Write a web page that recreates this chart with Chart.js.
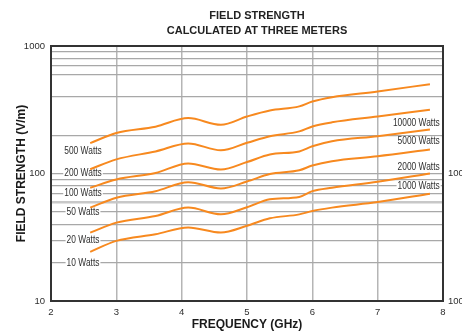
<!DOCTYPE html>
<html>
<head>
<meta charset="utf-8">
<title>Field strength</title>
<script src="https://cdn.jsdelivr.net/npm/chart.js@4/dist/chart.umd.min.js"></script>
<style>
  html, body { margin: 0; padding: 0; background: #fff; }
  #wrap { width: 462px; height: 335px; }
</style>
</head>
<body>
<div id="wrap"><canvas id="chart" width="462" height="335"></canvas></div>
<script>
// field strength curves, V/m at 3 m
const freqGHz   = [2.6, 3.0, 3.6, 4.1, 4.6, 5.0, 5.35, 5.8, 6.0, 6.3, 7.0, 7.8];
const field500W = [173, 208, 233, 272, 241, 280, 312, 336, 367, 397, 440, 502];
const field200W = [108, 129, 149, 172, 152, 174, 196, 214, 234, 252, 280, 316];
const field100W = [77.3, 89.8, 101, 120, 107.5, 123, 141, 149, 163.5, 179, 196, 221];
const field50W  = [54, 64.6, 72.7, 85.5, 76.3, 86.6, 99, 106, 115.5, 125, 136.5, 154];
const field20W  = [34.4, 41.2, 46.4, 54, 47.8, 54.3, 62.7, 65.5, 72.7, 77.3, 86.1, 100];
const field10W  = [24.3, 29.6, 33.4, 37.7, 34.4, 38.9, 44.5, 47.8, 50.8, 54, 59.7, 69.4];

const leftLabels   = ['500 Watts', '200 Watts', '100 Watts', '50 Watts', '20 Watts', '10 Watts'];
const leftLabelAt  = [150, 100, 70, 50, 30, 20];
const rightLabels  = ['10000 Watts', '5000 Watts', '2000 Watts', '1000 Watts'];
const rightLabelAt = [250, 178, 113, 80];

const yGridValues     = [10, 20, 30, 40, 50, 60, 70, 80, 90, 100, 200, 400, 600, 700, 800, 900, 1000];
const yTickLabels     = { 10: '10', 100: '100', 1000: '1000' };
const rightTickLabels = { 10: '100', 100: '100' };
const xMin = 2, xMax = 8;

const ORANGE = '#f7891f';
const TEXT = '#2e2e2e';
const SANS = '"Liberation Sans", Arial, Helvetica, sans-serif';
const SQUEEZE = 0.8;   // narrow look for the curve labels

const series = [field500W, field200W, field100W, field50W, field20W, field10W];

const decorations = {
  id: 'decorations',
  beforeDatasetsDraw(chart) {
    const { ctx, scales } = chart;
    ctx.save();
    ctx.font = '10.5px ' + SANS;
    ctx.textBaseline = 'middle';
    ctx.textAlign = 'left';

    const boxed = (txt, x, y, align) => {
      const w = ctx.measureText(txt).width * SQUEEZE;
      const left = align === 'center' ? x - w / 2 : x - w;
      ctx.fillStyle = '#fff';
      ctx.fillRect(left - 1, y - 5, w + 2, 10);
      ctx.save();
      ctx.translate(left, y);
      ctx.scale(SQUEEZE, 1);
      ctx.fillStyle = TEXT;
      ctx.fillText(txt, 0, 0);
      ctx.restore();
    };

    const lx = scales.x.getPixelForValue(2.49);
    leftLabels.forEach((txt, i) => boxed(txt, lx, scales.y.getPixelForValue(leftLabelAt[i]), 'center'));
    const rx = scales.x.getPixelForValue(7.95);
    rightLabels.forEach((txt, i) => boxed(txt, rx, scales.y.getPixelForValue(rightLabelAt[i]), 'right'));
    ctx.restore();
  },
  afterDraw(chart) {
    const { ctx, chartArea: a } = chart;
    ctx.save();
    ctx.strokeStyle = '#333';
    ctx.lineWidth = 2;
    ctx.strokeRect(a.left, a.top, a.right - a.left, a.bottom - a.top);

    ctx.fillStyle = '#222';
    ctx.font = 'bold 11px ' + SANS;
    ctx.textAlign = 'center';
    ctx.textBaseline = 'middle';
    const cx = (a.left + a.right) / 2 + 10;
    ctx.fillText('FIELD STRENGTH', cx, 15.5);
    ctx.fillText('CALCULATED AT THREE METERS', cx, 30.5);
    ctx.restore();
  }
};

new Chart(document.getElementById('chart'), {
  type: 'line',
  data: {
    datasets: series.map((vals, i) => ({
      label: leftLabels[i],
      data: freqGHz.map((f, j) => ({ x: f, y: vals[j] })),
      borderColor: ORANGE,
      borderWidth: 2,
      pointRadius: 0,
      fill: false,
      cubicInterpolationMode: 'monotone'
    }))
  },
  options: {
    responsive: false,
    animation: false,
    devicePixelRatio: 1,
    layout: { padding: { top: 46, left: 0, right: 0, bottom: 0 } },
    plugins: {
      legend: { display: false },
      title: { display: false },
      tooltip: { enabled: false }
    },
    scales: {
      x: {
        type: 'linear',
        min: xMin,
        max: xMax,
        afterFit: s => { s.height = 34; },
        border: { display: false },
        grid: { color: '#b5b5b5', lineWidth: 1.5, drawTicks: false },
        ticks: { stepSize: 1, padding: 6, color: TEXT, font: { family: SANS, size: 9.5 } },
        title: {
          display: true,
          text: 'FREQUENCY (GHz)',
          color: '#1a1a1a',
          font: { family: SANS, size: 12, weight: 'bold' },
          padding: { top: 0, bottom: 3 }
        }
      },
      y: {
        type: 'logarithmic',
        min: 10,
        max: 1000,
        afterFit: s => { s.width = 51; },
        afterBuildTicks: s => { s.ticks = yGridValues.map(v => ({ value: v })); },
        border: { display: false },
        grid: {
          color: c => (c.tick && c.tick.value === 60 ? '#c8c8c8' : '#a8a8a8'),
          lineWidth: c => (c.tick && c.tick.value === 60 ? 2.5 : 1.2),
          drawTicks: false
        },
        ticks: {
          autoSkip: false,
          padding: 6,
          color: TEXT,
          font: { family: SANS, size: 9.5 },
          callback: v => yTickLabels[v] || ''
        },
        title: {
          display: true,
          text: 'FIELD STRENGTH (V/m)',
          color: '#1a1a1a',
          font: { family: SANS, size: 12, weight: 'bold' },
          padding: { top: 14, bottom: 0 }
        }
      },
      y2: {
        type: 'logarithmic',
        position: 'right',
        min: 10,
        max: 1000,
        afterFit: s => { s.width = 19; },
        afterBuildTicks: s => { s.ticks = [10, 100].map(v => ({ value: v })); },
        border: { display: false },
        grid: { display: false, drawTicks: false },
        ticks: {
          autoSkip: false,
          padding: 5,
          color: TEXT,
          font: { family: SANS, size: 9.5 },
          callback: v => rightTickLabels[v] || ''
        }
      }
    }
  },
  plugins: [decorations]
});
</script>
</body>
</html>
